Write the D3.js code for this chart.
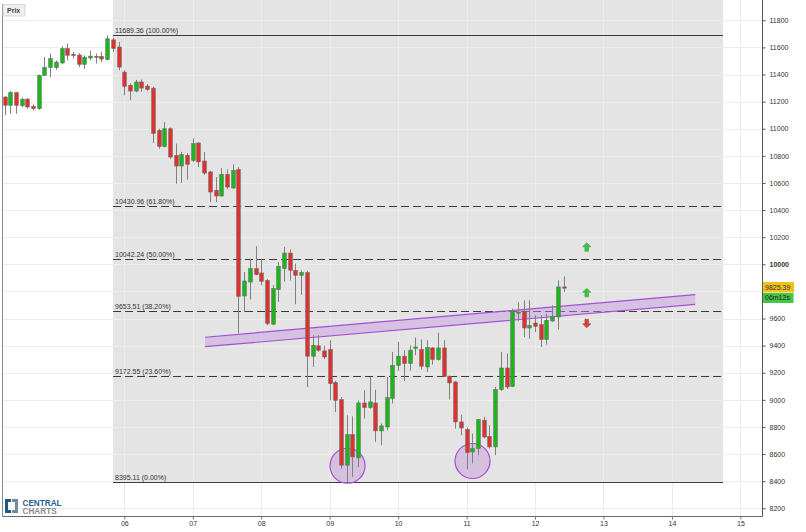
<!DOCTYPE html>
<html><head><meta charset="utf-8">
<script src="https://cdn.jsdelivr.net/npm/d3@7"></script>
<style>
body{margin:0;background:#fff}
svg{display:block;font-family:"Liberation Sans",Arial,sans-serif}
</style>
</head><body>
<svg id="c" width="806" height="532"></svg>
<script>
// ---------- DATA ----------
const firstCandleDay = 4.25;   // day position of first candle
const candlesPerDay = 12;
const opens  = [11234,11173,11266,11170,11219,11165,11148,11394,11451,11451,11485,11591,11550,11544,11475,11522,11534,11534,11510,11656,
                11603,11418,11320,11278,11345,11315,11300,10988,10870,11000,10804,10725,10804,10767,10895,10762,10681,10546,10504,10664,
                10563,10698,9766,9869,9968,9936,9882,9558,9813,9968,10083,9956,9919,9939,9322,9398,9361,9371,9128,9002,
                8518,8744,8572,8977,8943,8977,8771,8800,9010,9255,9322,9268,9380,9371,9243,9383,9297,9383,9174,9132,
                8837,8781,8616,8641,8850,8731,8653,9076,9235,9100,9640,9653,9530,9567,9555,9445,9582,9611,9833];
const highs  = [11240,11278,11272,11232,11225,11180,11400,11529,11554,11503,11608,11628,11565,11558,11541,11577,11555,11567,11689.36,11672,
                11639,11431,11333,11360,11363,11330,11310,11000,11049,11010,10890,10830,10820,10927,10900,10828,10690,10644,10710,10700,
                10737,10717,9943,10042,10133,10042,9890,9847,10017,10128,10110,10005,9955,9950,9476,9476,9398,9440,9140,9020,
                8886,8879,8995,9071,9169,9075,8825,9169,9353,9427,9366,9400,9460,9445,9440,9390,9496,9440,9180,9140,
                8891,8796,8751,8860,8875,8813,9095,9353,9342,9673,9720,9734,9734,9624,9624,9636,9698,9882,9911];
const lows   = [11099,11111,11111,11158,11148,11136,11140,11390,11381,11435,11478,11504,11518,11455,11443,11505,11481,11492,11505,11566,
                11431,11246,11210,11270,11272,11280,10895,10853,10862,10780,10595,10600,10625,10755,10717,10660,10459,10459,10500,10555,
                10555,9491,9648,9740,9919,9845,9550,9550,9722,9872,9880,9705,9774,9095,9243,9355,9300,8997,8911,8493,
                8395.11,8432,8505,8862,8935,8690,8665,8775,8973,9215,9139,9215,9330,9223,9206,9260,9290,9170,9002,8788,
                8739,8486,8530,8592,8715,8641,8592,9065,9080,9095,9580,9464,9452,9500,9390,9408,9575,9518,9796];
const closes = [11173,11266,11173,11217,11160,11148,11394,11451,11517,11492,11591,11542,11540,11475,11527,11536,11530,11514,11664,11593,
                11455,11313,11278,11345,11300,11290,10964,10870,11000,10791,10725,10809,10738,10890,10755,10673,10533,10504,10664,10570,
                10693,9764,9877,9968,9924,9875,9563,9821,9985,10083,9956,9919,9941,9322,9403,9366,9316,9120,8997,8518,
                8744,8579,8977,8943,8985,8771,8808,9017,9255,9322,9268,9366,9390,9248,9386,9297,9383,9174,9125,8837,
                8793,8611,8641,8855,8726,8653,9076,9235,9095,9650,9648,9530,9548,9543,9445,9587,9611,9833,9825.39];

const dayTicks   = [6,7,8,9,10,11,12,13,14,15];
const priceGrid  = [8200,8400,8600,8800,9000,9200,9400,9600,9800,10000,10200,10400,10600,10800,11000,11200,11400,11600,11800];
const priceTicks = [8200,8400,8600,8800,9000,9200,9400,9600,10000,10200,10400,10600,10800,11000,11200,11400,11600,11800]; // 9800 hidden by price tag

const fibLevels  = [11689.36, 10430.96, 10042.24, 9653.51, 9172.55, 8395.11];
const fibLabels  = ["11689.36 (100.00%)","10430.96 (61.80%)","10042.24 (50.00%)","9653.51 (38.20%)","9172.55 (23.60%)","8395.11 (0.00%)"];
const fibDashed  = [false, true, true, true, true, false];
const fibZone    = [5.836, 14.747];           // day range of the retracement zone

const channelDays  = [7.18, 14.34];
const channelUpper = [9462, 9777];
const channelLower = [9392, 9705];

const circleDays   = [9.261, 11.087];
const circleValues = [8514, 8549];

const arrowDays   = [12.755, 12.755, 12.755];
const arrowValues = [10125, 9790, 9565];
const arrowDirs   = ["up", "up", "down"];

const lastPrice = "9825.39";
const lastPriceValue = 9825.39;
const timer = "06m12s";

// ---------- LAYOUT ----------
const svg = d3.select("#c");
const W = 806, H = 532;
const plotL = 2.5, plotR = 762.5, plotB = 516.5;

const x = d3.scaleLinear().domain([6, 15]).range([124.3, 740.4]);
const y = d3.scaleLinear().domain([8200, 10000]).range([508.3, 264.3]);

const candles = opens.map((o, i) => ({
  d: firstCandleDay + i / candlesPerDay, o, h: highs[i], l: lows[i], c: closes[i]
}));

// background
svg.append("rect").attr("width", W).attr("height", H).attr("fill", "#fff");

// shaded zone
svg.append("rect")
  .attr("x", x(fibZone[0])).attr("y", 0)
  .attr("width", x(fibZone[1]) - x(fibZone[0]))
  .attr("height", y(fibLevels[5]))
  .attr("fill", "#e4e4e4");

// grid
const grid = svg.append("g");
grid.selectAll("line.h").data(priceGrid).join("line")
  .attr("x1", plotL).attr("x2", plotR)
  .attr("y1", d => Math.round(y(d)) + 0.5).attr("y2", d => Math.round(y(d)) + 0.5)
  .attr("stroke", "#ececec").attr("stroke-width", 1);
grid.selectAll("line.v").data(dayTicks).join("line")
  .attr("x1", d => Math.round(x(d)) + 0.5).attr("x2", d => Math.round(x(d)) + 0.5)
  .attr("y1", 0).attr("y2", plotB)
  .attr("stroke", "#ececec").attr("stroke-width", 1);

// fib lines
const fib = svg.append("g");
fibLevels.forEach((v, i) => {
  const yy = Math.round(y(v)) + 0.5;
  fib.append("line")
    .attr("x1", x(fibZone[0])).attr("x2", x(fibZone[1]))
    .attr("y1", yy).attr("y2", yy)
    .attr("stroke", "#3a3a3a").attr("stroke-width", 1)
    .attr("stroke-dasharray", fibDashed[i] ? "8,4" : null);
  fib.append("text")
    .attr("x", x(fibZone[0]) + 2).attr("y", yy - 3)
    .attr("font-size", 7).attr("fill", "#333")
    .text(fibLabels[i]);
});

// channel
const chan = svg.append("g");
const upPts = channelDays.map((d, i) => [x(d), y(channelUpper[i])]);
const loPts = channelDays.map((d, i) => [x(d), y(channelLower[i])]);
chan.append("path")
  .attr("d", d3.line()(upPts.concat(loPts.slice().reverse())) + "Z")
  .attr("fill", "rgba(200,150,225,0.45)");
[upPts, loPts].forEach(p => chan.append("path")
  .attr("d", d3.line()(p)).attr("fill", "none")
  .attr("stroke", "#a24fd6").attr("stroke-width", 1.2));

// circles (behind candles)
const circ = svg.append("g");
circleDays.forEach((d, i) => circ.append("circle")
  .attr("cx", x(d)).attr("cy", y(circleValues[i])).attr("r", 17.5)
  .attr("fill", "rgba(195,150,215,0.45)")
  .attr("stroke", "#a450d4").attr("stroke-width", 1.2));

// candles
const cg = svg.append("g");
const bw = 3.6;
candles.forEach(k => {
  const cx = Math.round(x(k.d)) + 0.5;
  cg.append("line").attr("x1", cx).attr("x2", cx)
    .attr("y1", y(k.h)).attr("y2", y(k.l))
    .attr("stroke", "#808080").attr("stroke-width", 1);
  const top = y(Math.max(k.o, k.c)), bot = y(Math.min(k.o, k.c));
  cg.append("rect")
    .attr("x", cx - bw / 2).attr("y", top)
    .attr("width", bw).attr("height", Math.max(1.2, bot - top))
    .attr("fill", k.c >= k.o ? "#18b818" : "#e2302d")
    .attr("stroke", "#6a6a6a").attr("stroke-width", 0.6);
});

// arrows
const ag = svg.append("g");
arrowDays.forEach((d, i) => {
  const up = arrowDirs[i] === "up";
  const s = up ? 1 : -1;
  ag.append("path")
    .attr("transform", `translate(${x(d)},${y(arrowValues[i])}) scale(1,${s})`)
    .attr("d", "M0,-4.5 L4.2,-0.5 L1.8,-0.5 L1.8,4 L-1.8,4 L-1.8,-0.5 L-4.2,-0.5 Z")
    .attr("fill", up ? "#3fc43f" : "#d9403b")
    .attr("stroke", up ? "#2a9a2a" : "#a83030").attr("stroke-width", 0.5);
});

// frame
svg.append("line").attr("x1", plotL).attr("x2", plotL).attr("y1", 4).attr("y2", plotB)
  .attr("stroke", "#8a8a8a");
svg.append("line").attr("x1", plotL).attr("x2", plotR).attr("y1", plotB).attr("y2", plotB)
  .attr("stroke", "#6a6a6a");

// y axis
const yAxis = svg.append("g").attr("transform", `translate(${plotR},0)`)
  .call(d3.axisRight(y).tickValues(priceTicks).tickSize(3).tickPadding(4).tickFormat(d3.format("d")));
yAxis.select(".domain").attr("stroke", "#555").attr("d", `M0,0V${plotB}`);
yAxis.selectAll(".tick line").attr("stroke", "#555");
yAxis.selectAll(".tick text").attr("font-size", 7).attr("fill", "#333")
  .attr("font-family", "Liberation Sans, Arial, sans-serif")
  .attr("font-weight", d => d === 10000 ? "bold" : null);

// x axis
const xAxis = svg.append("g").attr("transform", `translate(0,${plotB})`)
  .call(d3.axisBottom(x).tickValues(dayTicks).tickSize(3).tickPadding(2).tickFormat(d3.format("02d")));
xAxis.select(".domain").remove();
xAxis.selectAll(".tick line").attr("stroke", "#777");
xAxis.selectAll(".tick text").attr("font-size", 7).attr("fill", "#333")
  .attr("font-family", "Liberation Sans, Arial, sans-serif");

// last price tag
const ly = y(lastPriceValue);
svg.append("rect").attr("x", 763).attr("y", ly - 6).attr("width", 31).attr("height", 10.5)
  .attr("fill", "#f2c11d");
svg.append("text").attr("x", 765).attr("y", ly + 2).attr("font-size", 7).attr("fill", "#333").text(lastPrice);
svg.append("rect").attr("x", 763).attr("y", ly + 5).attr("width", 30.5).attr("height", 10)
  .attr("fill", "#45c545");
svg.append("text").attr("x", 765).attr("y", ly + 12.5).attr("font-size", 7).attr("fill", "#222").text(timer);

// "Prix" legend box
svg.append("rect").attr("x", 3).attr("y", 4.5).attr("width", 22).attr("height", 11.5)
  .attr("fill", "#efefef").attr("stroke", "#cfcfcf").attr("stroke-width", 0.8);
svg.append("text").attr("x", 7).attr("y", 13.3).attr("font-size", 7).attr("font-weight", "bold")
  .attr("fill", "#444").text("Prix");

// logo
const logo = svg.append("g");
logo.append("path").attr("d", "M5,499 H11 V502 H8 V510 H11 V513 H5 Z").attr("fill", "#1f5a8f");
logo.append("path").attr("d", "M12,499 H18 V513 H12 V510 H15 V502 H12 Z").attr("fill", "#6f8aa3");
logo.append("text").attr("x", 22.5).attr("y", 506).attr("font-size", 8.2).attr("font-weight", "bold")
  .attr("fill", "#2a5f93").text("CENTRAL");
logo.append("text").attr("x", 22.5).attr("y", 513.5).attr("font-size", 8.2).attr("font-weight", "bold")
  .attr("fill", "#8a8a8a").text("CHARTS");
</script>
</body></html>
